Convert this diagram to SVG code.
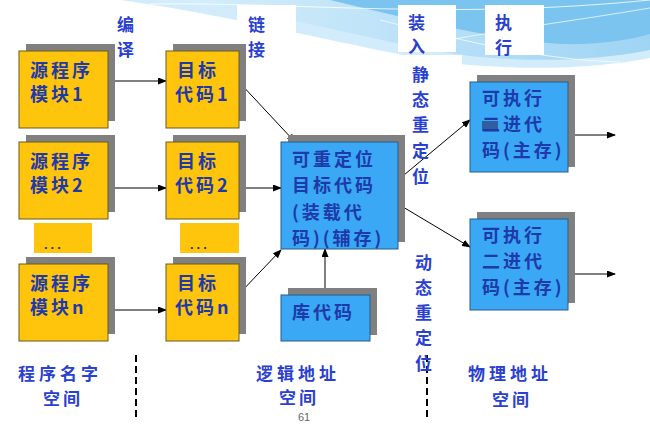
<svg xmlns="http://www.w3.org/2000/svg" width="650" height="425" viewBox="0 0 650 425">
  <defs>
    <marker id="arr" markerWidth="9" markerHeight="7" refX="8" refY="3.5" orient="auto" markerUnits="userSpaceOnUse">
      <path d="M0,0 L9,3.5 L0,7 z" fill="#000"/>
    </marker>
    <linearGradient id="wave" x1="0" y1="0" x2="1" y2="0">
      <stop offset="0" stop-color="#d6eefb"/>
      <stop offset="1" stop-color="#9fd4f4"/>
    </linearGradient>
  </defs>
  <style>
    .shadow { fill: #808080; }
    .yellow { fill: #ffc40c; stroke: #6b5a20; stroke-width: 1; }
    .dots { fill: #ffc40c; }
    .dt { font-family: "Liberation Sans", sans-serif; font-size: 13px; font-weight: 700; fill: #333; letter-spacing: 3px; }
    .blue { fill: #3aa8f5; stroke: #2a5a8a; stroke-width: 1; }
    .nt { font-family: "Noto Sans CJK SC", "Noto Sans", sans-serif; font-size: 18px; font-weight: 700; fill: #1e3aa8; letter-spacing: 3px; }
    .lb { font-family: "Noto Sans CJK SC", "Noto Sans", sans-serif; font-size: 17px; font-weight: 700; fill: #2a40d0; }
    .conn { stroke: #000; stroke-width: 1; fill: none; marker-end: url(#arr); }
    .dash { stroke: #000; stroke-width: 2; stroke-dasharray: 7 4; fill: none; }
    .wb { fill: #ffffff; }
  </style>

  <!-- background -->
  <rect x="0" y="0" width="650" height="425" fill="#ffffff"/>
  <g id="background-wave">
    <path d="M120,0 C250,18 380,55 460,64 C530,71 600,68 650,58 L650,0 Z" fill="#d3ecfb"/>
    <path d="M180,0 C300,18 400,48 470,56 C540,63 600,60 650,50 L650,0 Z" fill="url(#wave)"/>
    <path d="M330,0 C420,22 500,40 560,44 C600,45 630,40 650,34 L650,0 Z" fill="#7cc4f0"/>
    <path d="M150,4 C300,2 450,20 650,0" stroke="#ffffff" stroke-width="1" fill="none" opacity="0.8"/>
    <path d="M380,20 C460,40 540,60 620,62" stroke="#ffffff" stroke-width="1" fill="none" opacity="0.7"/>
    <path d="M420,45 C500,30 580,20 650,8" stroke="#ffffff" stroke-width="1" fill="none" opacity="0.7"/>
  </g>
  <g id="label-boxes">
    <rect class="wb" x="237" y="5" width="59" height="60"/>
    <rect class="wb" x="398" y="5" width="58" height="47"/>
    <rect class="wb" x="398" y="55" width="64" height="20"/>
    <rect class="wb" x="485" y="5" width="59" height="50"/>
  </g>

  <!-- connectors -->
  <g id="connectors">
    <line class="conn" x1="108" y1="81" x2="166" y2="81"/>
    <line class="conn" x1="108" y1="188" x2="166" y2="188"/>
    <line class="conn" x1="108" y1="310" x2="166" y2="310"/>
    <line class="conn" x1="239" y1="82" x2="295" y2="142"/>
    <line class="conn" x1="239" y1="188" x2="281" y2="188"/>
    <line class="conn" x1="239" y1="294" x2="281" y2="250"/>
    <line class="conn" x1="325" y1="295" x2="325" y2="249"/>
    <line class="conn" x1="398" y1="180" x2="470" y2="120"/>
    <line class="conn" x1="398" y1="204" x2="470" y2="247"/>
    <line class="conn" x1="568" y1="135" x2="615" y2="135"/>
    <line class="conn" x1="568" y1="274" x2="615" y2="274"/>
    <line class="dash" x1="136" y1="355" x2="136" y2="417"/>
    <line class="dash" x1="427" y1="355" x2="427" y2="417"/>
  </g>

  <!-- source modules -->
  <g id="src1">
    <rect class="shadow" x="26" y="44" width="89" height="77"/>
    <rect class="yellow" x="19" y="51" width="89" height="77"/>
    <text class="nt" x="30" y="77">源程序</text>
    <text class="nt" x="30" y="101">模块1</text>
  </g>
  <g id="src2">
    <rect class="shadow" x="26" y="135" width="89" height="77"/>
    <rect class="yellow" x="19" y="142" width="89" height="77"/>
    <text class="nt" x="30" y="168">源程序</text>
    <text class="nt" x="30" y="192">模块2</text>
  </g>
  <g id="src-dots">
    <rect class="dots" x="34" y="223" width="58" height="30"/>
    <text class="dt" x="44" y="249">...</text>
  </g>
  <g id="srcn">
    <rect class="shadow" x="26" y="257" width="89" height="77"/>
    <rect class="yellow" x="19" y="264" width="89" height="77"/>
    <text class="nt" x="30" y="290">源程序</text>
    <text class="nt" x="30" y="314">模块n</text>
  </g>

  <!-- object modules -->
  <g id="obj1">
    <rect class="shadow" x="173" y="44" width="73" height="77"/>
    <rect class="yellow" x="166" y="51" width="73" height="77"/>
    <text class="nt" x="177" y="77">目标</text>
    <text class="nt" x="175" y="101">代码1</text>
  </g>
  <g id="obj2">
    <rect class="shadow" x="173" y="135" width="73" height="77"/>
    <rect class="yellow" x="166" y="142" width="73" height="77"/>
    <text class="nt" x="177" y="168">目标</text>
    <text class="nt" x="175" y="192">代码2</text>
  </g>
  <g id="obj-dots">
    <rect class="dots" x="180" y="223" width="59" height="30"/>
    <text class="dt" x="190" y="249">...</text>
  </g>
  <g id="objn">
    <rect class="shadow" x="173" y="257" width="73" height="77"/>
    <rect class="yellow" x="166" y="264" width="73" height="77"/>
    <text class="nt" x="177" y="290">目标</text>
    <text class="nt" x="175" y="314">代码n</text>
  </g>

  <!-- relocatable -->
  <g id="reloc">
    <rect class="shadow" x="288" y="135" width="117" height="107"/>
    <rect class="blue" x="281" y="142" width="117" height="107"/>
    <text class="nt" x="292" y="166">可重定位</text>
    <text class="nt" x="292" y="192">目标代码</text>
    <text class="nt" x="292" y="219">(装载代</text>
    <text class="nt" x="292" y="245">码)(辅存)</text>
  </g>
  <g id="lib">
    <rect class="shadow" x="288" y="288" width="89" height="47"/>
    <rect class="blue" x="281" y="295" width="89" height="46"/>
    <text class="nt" x="292" y="319">库代码</text>
  </g>

  <!-- executables -->
  <g id="exe1">
    <rect class="shadow" x="477" y="75" width="98" height="92"/>
    <rect class="blue" x="470" y="82" width="98" height="90"/>
    <rect x="482" y="121" width="16" height="10" fill="#2f5f9f"/>
    <text class="nt" x="482" y="105">可执行</text>
    <text class="nt" x="482" y="131">二进代</text>
    <text class="nt" x="482" y="157">码(主存)</text>
  </g>
  <g id="exe2">
    <rect class="shadow" x="477" y="212" width="98" height="91"/>
    <rect class="blue" x="470" y="219" width="98" height="91"/>
    <text class="nt" x="482" y="242">可执行</text>
    <text class="nt" x="482" y="268">二进代</text>
    <text class="nt" x="482" y="294">码(主存)</text>
  </g>

  <!-- labels -->
  <g id="labels">
    <text class="lb" x="117" y="31">编</text>
    <text class="lb" x="117" y="56">译</text>
    <text class="lb" x="248" y="31">链</text>
    <text class="lb" x="248" y="56">接</text>
    <text class="lb" x="408" y="29">装</text>
    <text class="lb" x="408" y="53">入</text>
    <text class="lb" x="412" y="81">静</text>
    <text class="lb" x="412" y="106">态</text>
    <text class="lb" x="412" y="131">重</text>
    <text class="lb" x="412" y="157">定</text>
    <text class="lb" x="412" y="183">位</text>
    <text class="lb" x="495" y="29">执</text>
    <text class="lb" x="495" y="54">行</text>
    <text class="lb" x="415" y="269">动</text>
    <text class="lb" x="415" y="294">态</text>
    <text class="lb" x="415" y="319">重</text>
    <text class="lb" x="415" y="344">定</text>
    <text class="lb" x="415" y="370">位</text>
    <text class="lb" x="18" y="380" letter-spacing="4">程序名字</text>
    <text class="lb" x="43" y="405" letter-spacing="3">空间</text>
    <text class="lb" x="256" y="380" letter-spacing="4">逻辑地址</text>
    <text class="lb" x="279" y="404" letter-spacing="3">空间</text>
    <text class="lb" x="468" y="380" letter-spacing="4">物理地址</text>
    <text class="lb" x="492" y="406" letter-spacing="3">空间</text>
    <text x="298" y="421" font-family="Liberation Sans, sans-serif" font-size="11" fill="#666">61</text>
  </g>
</svg>
